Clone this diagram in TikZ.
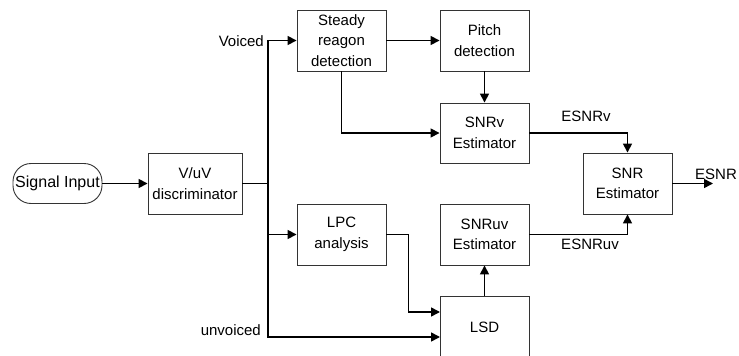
\documentclass[tikz,border=0pt]{standalone}
\usepackage{fontspec}
\setmainfont{Liberation Sans}
\usetikzlibrary{arrows.meta}
\begin{document}
\begin{tikzpicture}[x=1pt,y=-1pt,
  every node/.style={font=\fontsize{15}{20.5}\selectfont},
  blk/.style={draw=black!80,line width=0.9pt,minimum width=89pt,minimum height=61pt,inner sep=0pt,align=center},
  conn/.style={line width=1.6pt,black},
  arr/.style={conn,-{Triangle[length=9pt,width=9pt]}},
  lbl/.style={inner sep=0pt}]
\useasboundingbox (0,0) rectangle (739,356);
\clip (0,0) rectangle (739,356);
\node[blk] (steady) at (341.5,40.5) {Steady\\reagon\\detection};
\node[blk] (pitch) at (484.5,40.5) {Pitch\\detection};
\node[blk,minimum height=60pt] (snrv) at (484.5,133) {SNRv\\Estimator};
\node[blk] (snr) at (627.5,183.5) {SNR\\Estimator};
\node[blk] (snruv) at (484.5,234.5) {SNRuv\\Estimator};
\node[blk,minimum height=62pt] (lsd) at (484.5,327) {LSD};
\node[blk] (lpc) at (341.5,234.5) {LPC\\analysis};
\node[blk,minimum width=94pt] (vuv) at (195,183.5) {V/uV\\discriminator};
\node[draw=black!80,line width=0.9pt,rounded corners=18pt,minimum width=89pt,minimum height=40pt,inner sep=0pt,font=\fontsize{16}{20}\selectfont] (sig) at (57.5,183.5) {Signal Input};
\coordinate (j) at (268,183.5);
\coordinate (lsdin1) at (440,312);
\coordinate (lsdin2) at (440,337);
\coordinate (out) at (713,183.5);
\draw[arr] (sig) -- (vuv);
\draw[conn] (vuv.east) -- (j);
\draw[arr] (j) |- (steady.west);
\draw[arr] (j) |- (lpc.west);
\draw[arr] (j) |- (lsdin2);
\draw[arr] (steady) -- (pitch);
\draw[arr] (steady.south) |- (snrv.west);
\draw[arr] (pitch) -- (snrv);
\draw[arr] (snrv.east) -| (snr.north);
\draw[arr] (snruv.east) -| (snr.south);
\draw[arr] (lsd) -- (snruv);
\draw[arr] (lpc.east) -- ++(22,0) |- (lsdin1);
\draw[arr] (snr.east) -- (out);
\node[lbl,anchor=east] (voiced) at (264,41) {Voiced};
\node[lbl,anchor=east] (unvoiced) at (261,330) {unvoiced};
\node[lbl] (esnrv) at (586,116) {ESNRv};
\node[lbl] (esnruv) at (590,244) {ESNRuv};
\node[lbl] (esnr) at (716,174) {ESNR};
\end{tikzpicture}
\end{document}
